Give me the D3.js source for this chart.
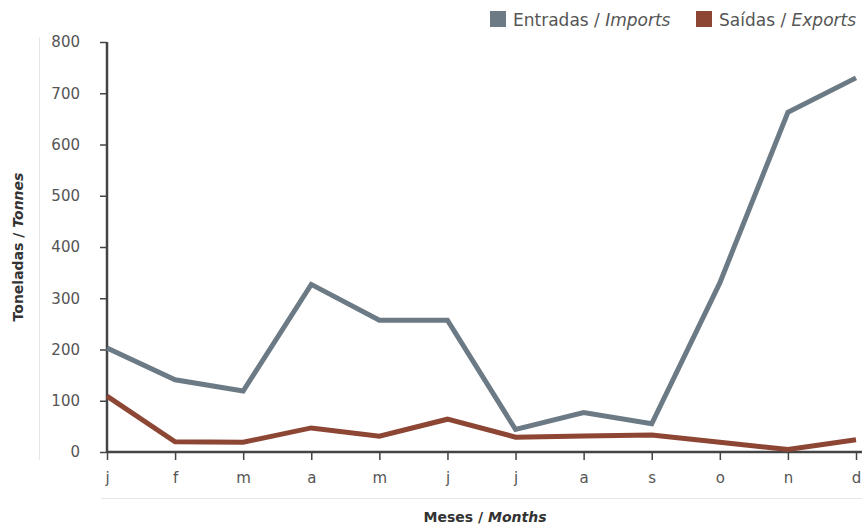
<!DOCTYPE html>
<html><head><meta charset="utf-8">
<script src="https://cdn.jsdelivr.net/npm/d3@7"></script>
<style>body{margin:0;background:#fff}svg{display:block;font-family:"DejaVu Sans",sans-serif}</style>
</head><body>
<svg id="c" width="862" height="527"></svg>
<script>
const months = ["j","f","m","a","m","j","j","a","s","o","n","d"];
const imports = [203,141,119,327,257,257,44,77,55,330,663,730];
const exports_ = [109,20,19,47,31,64,29,31,33,19,5,24];
const yTicks = [0,100,200,300,400,500,600,700,800];
const seriesNames = ["Entradas / ","Saídas / "];
const seriesNamesEn = ["Imports","Exports"];
const colors = ["#6b7a84","#8d4534"];

const svg = d3.select("#c");
const x = d3.scalePoint().domain(d3.range(12)).range([107,856]);
const y = d3.scaleLinear().domain([0,800]).range([452,42]);

// light frame lines
svg.append("line").attr("x1",39.5).attr("x2",39.5).attr("y1",37).attr("y2",460).attr("stroke","#e6e6e6").attr("stroke-width",1);
svg.append("line").attr("x1",101).attr("x2",862).attr("y1",498.5).attr("y2",498.5).attr("stroke","#e6e6e6").attr("stroke-width",1);

const yAxis = svg.append("g").attr("transform","translate(107,0)")
  .call(d3.axisLeft(y).tickValues(yTicks).tickSize(7).tickPadding(20));
const xAxis = svg.append("g").attr("transform","translate(0,452)")
  .call(d3.axisBottom(x).tickSize(8).tickPadding(12).tickFormat(i=>months[i]));
[yAxis,xAxis].forEach(g=>{
  g.select(".domain").attr("stroke","#444").attr("stroke-width",2.5);
  g.selectAll(".tick line").attr("stroke","#444").attr("stroke-width",1.5);
  g.selectAll(".tick text").attr("fill","#555").attr("font-size",15).attr("font-family","DejaVu Sans");
});
yAxis.select(".domain").attr("d","M0,452V42");
xAxis.select(".domain").attr("d","M107,0H862");

const line = d3.line().x((d,i)=>x(i)).y(d=>y(d));
[imports,exports_].forEach((s,k)=>{
  svg.append("path").datum(s).attr("d",line).attr("fill","none")
    .attr("stroke",colors[k]).attr("stroke-width",5).attr("stroke-linejoin","miter");
});

// legend
const legX = [490,696];
seriesNames.forEach((n,k)=>{
  svg.append("rect").attr("x",legX[k]).attr("y",11).attr("width",16).attr("height",16).attr("fill",colors[k]);
  const t = svg.append("text").attr("x",legX[k]+23).attr("y",26).attr("font-size",17).attr("fill","#555");
  t.append("tspan").text(n);
  t.append("tspan").attr("font-style","italic").text(seriesNamesEn[k]);
});

// axis titles
const yt = svg.append("text").attr("transform","translate(23,247) rotate(-90)").attr("text-anchor","middle")
  .attr("font-size",14).attr("font-weight","bold").attr("fill","#333");
yt.append("tspan").text("Toneladas / ");
yt.append("tspan").attr("font-style","italic").text("Tonnes");
const xt = svg.append("text").attr("x",485).attr("y",522).attr("text-anchor","middle")
  .attr("font-size",14).attr("font-weight","bold").attr("fill","#333");
xt.append("tspan").text("Meses / ");
xt.append("tspan").attr("font-style","italic").text("Months");
</script>
</body></html>
